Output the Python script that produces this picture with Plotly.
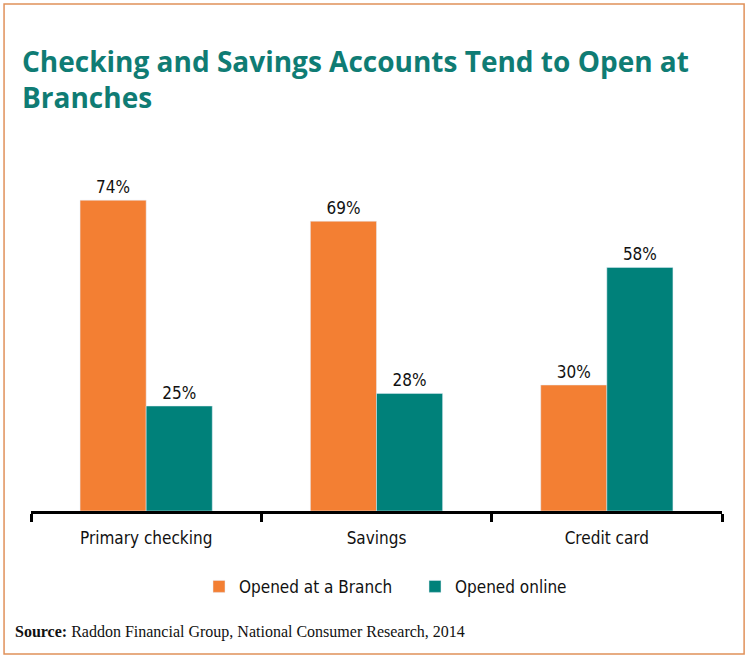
import plotly.graph_objects as go

categories = ["Primary checking", "Savings", "Credit card"]
branch = [74, 69, 30]
online = [25, 28, 58]
series_names = ["Opened at a Branch", "Opened online"]

ORANGE = "#f37f33"
TEAL = "#00817a"
COND = "DejaVu Sans Condensed, Liberation Sans Narrow, Roboto, sans-serif"

fig = go.Figure()
fig.add_trace(go.Bar(x=categories, y=branch, name=series_names[0], marker_color=ORANGE,
                     texttemplate="%{y}%", textposition="outside", cliponaxis=False,
                     textfont=dict(family=COND, size=17, color="#111111")))
fig.add_trace(go.Bar(x=categories, y=online, name=series_names[1], marker_color=TEAL,
                     texttemplate="%{y}%", textposition="outside", cliponaxis=False,
                     textfont=dict(family=COND, size=17, color="#111111")))

fig.update_layout(
    width=750, height=660,
    margin=dict(l=31, r=28, t=133, b=149),
    paper_bgcolor="white", plot_bgcolor="white",
    barmode="group", bargap=0.426, bargroupgap=0,
    showlegend=True,
    legend=dict(orientation="h", x=(199 - 31) / 691, xanchor="left", y=-0.153, yanchor="top",
                font=dict(family=COND, size=17, color="#111111"), itemwidth=30,
                entrywidth=171, traceorder="normal"),
    xaxis=dict(showline=True, linecolor="black", linewidth=3, ticks="outside",
               tickson="boundaries", ticklen=8, tickwidth=3, tickcolor="black",
               ticklabelstandoff=10,
               tickfont=dict(family=COND, size=17, color="#111111"), showgrid=False),
    yaxis=dict(range=[0, 90], visible=False, showgrid=False),
    shapes=[dict(type="rect", xref="paper", yref="paper", x0=-0.039, x1=1.032,
                 y0=-0.378, y1=1.341, line=dict(color="#e0915a", width=1.5),
                 fillcolor="rgba(0,0,0,0)", layer="below")],
    annotations=[
        dict(text="<b>Checking and Savings Accounts Tend to Open at<br>Branches</b>",
             xref="paper", yref="paper", x=(20 - 31) / 691, y=(511 - 40) / 378,
             xanchor="left", yanchor="top", align="left", showarrow=False,
             font=dict(family="Open Sans, Noto Sans, sans-serif", size=28, color="#0f7c74")),
        dict(text="<b>Source:</b> Raddon Financial Group, National Consumer Research, 2014",
             xref="paper", yref="paper", x=(13 - 31) / 691, y=(511 - 632) / 378,
             xanchor="left", yanchor="middle", showarrow=False,
             font=dict(family="Liberation Serif, serif", size=16, color="#111111")),
    ],
)

fig.write_html("out.html", config={"displayModeBar": False},
               post_script="document.body.style.margin='0';")
